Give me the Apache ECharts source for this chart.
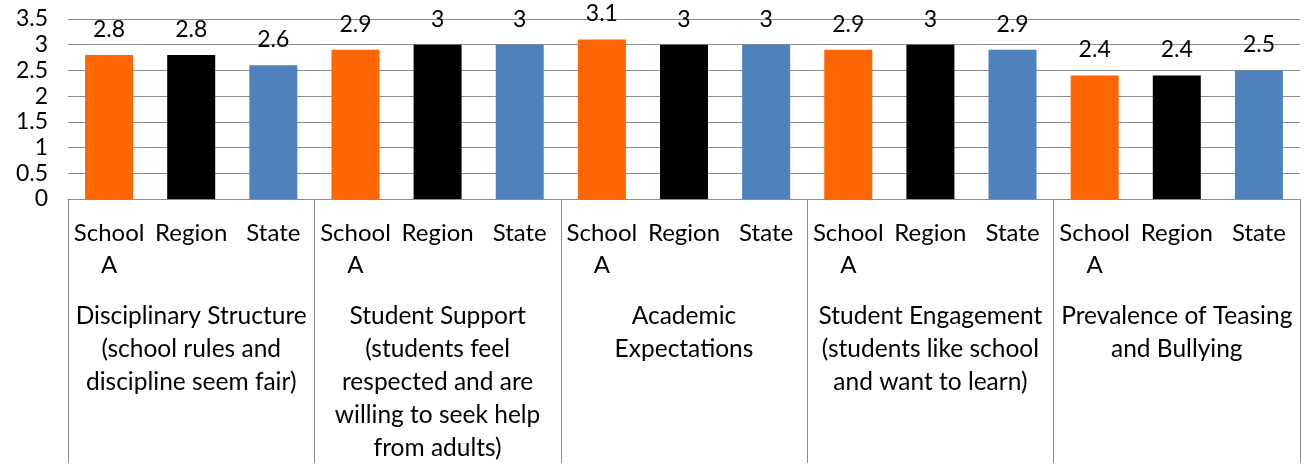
<!DOCTYPE html>
<html>
<head>
<meta charset="utf-8">
<script src="https://cdn.jsdelivr.net/npm/echarts@6/dist/echarts.min.js"></script>
<style>
  html, body { margin: 0; padding: 0; background: #fff; }
  #chart { width: 1309px; height: 475px; }
</style>
</head>
<body>
<div id="chart"></div>
<script>
// School climate domains and the three comparison groups
const domains = [
  'Disciplinary Structure\n(school rules and\ndiscipline seem fair)',
  'Student Support\n(students feel\nrespected and are\nwilling to seek help\nfrom adults)',
  'Academic\nExpectations',
  'Student Engagement\n(students like school\nand want to learn)',
  'Prevalence of Teasing\nand Bullying'
];
const groups = ['School\nA', 'Region', 'State'];
const schoolA = [2.8, 2.9, 3.1, 2.9, 2.4];
const region  = [2.8, 3, 3, 3, 2.4];
const state   = [2.6, 3, 3, 2.9, 2.5];
const groupColors = ['#FF6600', '#000000', '#4F81BD'];
const yTicks = { min: 0, max: 3.5, interval: 0.5 };

// Flatten into one bar per (domain, group) pair
const seriesByGroup = [schoolA, region, state];
const subCategories = [];
const barData = [];
domains.forEach((d, i) => {
  groups.forEach((g, j) => {
    subCategories.push(g);
    barData.push({
      value: seriesByGroup[j][i],
      itemStyle: { color: groupColors[j] }
    });
  });
});

const font = 'Lato, "Open Sans", sans-serif';
const gridGray = '#8c8c8c';

const chart = echarts.init(document.getElementById('chart'), null, { renderer: 'canvas' });
chart.setOption({
  animation: false,
  grid: { left: 68, right: 9, top: 19, bottom: 276, containLabel: false },
  xAxis: [
    {
      type: 'category',
      data: subCategories,
      position: 'bottom',
      axisLine: { show: true, lineStyle: { color: gridGray, width: 1 } },
      axisTick: { show: false },
      axisLabel: {
        interval: 0,
        margin: 18,
        fontFamily: font,
        fontSize: 24,
        lineHeight: 32,
        color: '#000',
        align: 'center'
      }
    },
    {
      type: 'category',
      data: domains,
      position: 'bottom',
      axisLine: { show: false },
      axisTick: { show: true, length: 264, lineStyle: { color: gridGray, width: 1 } },
      axisLabel: {
        interval: 0,
        margin: 101,
        fontFamily: font,
        fontSize: 24.5,
        lineHeight: 33,
        color: '#000',
        align: 'center'
      }
    }
  ],
  yAxis: {
    type: 'value',
    min: yTicks.min,
    max: yTicks.max,
    interval: yTicks.interval,
    axisLine: { show: false },
    axisTick: { show: false },
    splitLine: { show: true, lineStyle: { color: gridGray, width: 1 } },
    axisLabel: {
      margin: 20,
      fontFamily: font,
      fontSize: 23,
      color: '#000'
    }
  },
  series: [
    {
      type: 'bar',
      xAxisIndex: 0,
      data: barData,
      barWidth: 48,
      label: {
        show: true,
        position: 'top',
        distance: 14,
        fontFamily: font,
        fontSize: 23,
        color: '#000'
      }
    }
  ]
});
</script>
</body>
</html>
